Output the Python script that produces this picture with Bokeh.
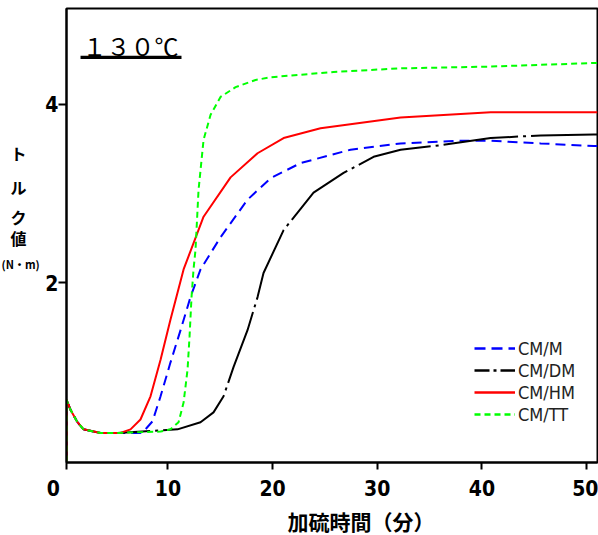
from bokeh.plotting import figure
from bokeh.layouts import row
from bokeh.models import (FixedTicker, Label, Legend, LegendItem, BoxAnnotation, Range1d, Title)
from bokeh.core.properties import value
from bokeh.embed import file_html
from bokeh.resources import INLINE

# ---- data ----
x_m  = [0.3, 0.3, 0.68, 1.35, 1.93, 3.55, 5.18, 7.37, 7.66, 8.52, 9.29, 10.24, 11.2, 12.15, 13.11, 15.02, 17.6, 19.8, 22.67, 27.45, 32.23, 37.68, 40.84, 45.62, 50.68, 51.05]
y_m  = [0.0, 0.69, 0.58, 0.44, 0.36, 0.32, 0.32, 0.32, 0.335, 0.45, 0.73, 1.11, 1.47, 1.84, 2.15, 2.51, 2.93, 3.17, 3.34, 3.49, 3.56, 3.59, 3.59, 3.56, 3.53, 3.53]

x_dm = [0.3, 0.3, 0.68, 1.35, 1.93, 3.55, 5.18, 10.91, 13.11, 14.35, 15.31, 16.27, 17.6, 18.56, 19.13, 21.05, 23.91, 26.78, 29.65, 32.23, 36.06, 40.84, 45.62, 50.68, 51.05]
y_dm = [0.0, 0.69, 0.58, 0.44, 0.36, 0.32, 0.32, 0.36, 0.44, 0.55, 0.73, 1.06, 1.47, 1.84, 2.11, 2.59, 3.01, 3.23, 3.41, 3.49, 3.54, 3.62, 3.65, 3.66, 3.66]

x_hm = [0.3, 0.3, 0.68, 1.35, 1.93, 3.55, 5.46, 6.42, 7.37, 8.33, 9.29, 10.24, 11.49, 13.40, 15.98, 18.56, 21.05, 24.58, 32.23, 40.84, 50.68, 51.05]
y_hm = [0.0, 0.69, 0.58, 0.44, 0.36, 0.32, 0.32, 0.36, 0.47, 0.73, 1.14, 1.59, 2.15, 2.74, 3.18, 3.45, 3.62, 3.73, 3.85, 3.91, 3.91, 3.91]

x_tt = [0.3, 0.3, 0.68, 1.35, 1.93, 3.55, 5.18, 9.29, 10.24, 11.01, 11.49, 11.87, 12.06, 12.25, 12.44, 12.63, 12.92, 13.40, 14.07, 15.02, 16.46, 18.37, 19.8, 25.83, 32.23, 40.84, 50.68, 51.05]
y_tt = [0.0, 0.69, 0.58, 0.44, 0.36, 0.32, 0.32, 0.335, 0.36, 0.44, 0.66, 1.03, 1.40, 1.84, 2.15, 2.37, 3.04, 3.60, 3.88, 4.08, 4.19, 4.27, 4.30, 4.36, 4.40, 4.42, 4.46, 4.46]

series_labels = ["CM/M", "CM/DM", "CM/HM", "CM/TT"]
x_ticks = [0.3, 10, 20, 30, 40, 50]
x_tick_labels = {0.3: "0\u00a0\u00a0\u00a0\u00a0"}
y_ticks = [2, 4]
y_label_parts = ["ト", "ル", "ク", "値", "(N・m)"]
# vertical positions of the stacked y-title, in torque units of the shared y-range
y_label_pos = [3.45, 3.07, 2.74, 2.50, 2.21]

NARROW = "DejaVu Sans Condensed"
CJK = "Noto Sans CJK JP"
H = 535

# ---- main plot ----
p = figure(width=556, height=H, output_backend="svg", toolbar_location=None,
           x_range=Range1d(0.3, 51.05), y_range=Range1d(-0.011, 5.07),
           min_border_left=24, min_border_right=1, min_border_top=8, min_border_bottom=72)
p.background_fill_color = "white"
p.border_fill_color = "white"
p.grid.visible = False
p.outline_line_color = "black"
p.outline_line_width = 2

for ax in (p.xaxis[0], p.yaxis[0]):
    ax.axis_line_color = "black"
    ax.axis_line_width = 2
    ax.major_tick_line_color = "black"
    ax.major_tick_line_width = 2
    ax.major_tick_in = 0
    ax.minor_tick_line_color = None
    ax.major_label_text_font = NARROW
    ax.major_label_text_font_style = "bold"
    ax.major_label_text_font_size = "21px"
    ax.major_label_text_color = "black"

p.xaxis.ticker = FixedTicker(ticks=x_ticks)
p.xaxis.major_label_overrides = x_tick_labels
p.yaxis.ticker = FixedTicker(ticks=y_ticks)
p.xaxis.major_tick_out = 7
p.yaxis.major_tick_out = 8
p.xaxis.major_label_standoff = 7
p.yaxis.major_label_standoff = 0

r_m = p.line(x_m, y_m, line_color="#0000ff", line_width=2, line_dash="10 6")
r_dm = p.line(x_dm, y_dm, line_color="black", line_width=2, line_dash="75 5 3 5")
r_hm = p.line(x_hm, y_hm, line_color="#ff0000", line_width=2)
r_tt = p.line(x_tt, y_tt, line_color="#00ff00", line_width=2, line_dash="6 4")

# legend proxies (off-screen) carrying the reference's short legend patterns
px_off = [-5, -4]
py_off = [-5, -5]
l_m = p.line(px_off, py_off, line_color="#0000ff", line_width=2.5, line_dash="11 6")
l_dm = p.line(px_off, py_off, line_color="black", line_width=2.5, line_dash="15 4 3 4")
l_hm = p.line(px_off, py_off, line_color="#ff0000", line_width=2.5)
l_tt = p.line(px_off, py_off, line_color="#00ff00", line_width=2.5, line_dash="6 4")

legend = Legend(items=[LegendItem(label=series_labels[0], renderers=[l_m]),
                       LegendItem(label=series_labels[1], renderers=[l_dm]),
                       LegendItem(label=series_labels[2], renderers=[l_hm]),
                       LegendItem(label=series_labels[3], renderers=[l_tt])],
                location=(408, 37), padding=0, margin=0, spacing=0,
                label_height=22, glyph_height=22, glyph_width=41, label_standoff=3,
                border_line_color=None, background_fill_alpha=0,
                label_text_font=NARROW, label_text_font_size="18px", label_text_color="#222222")
p.add_layout(legend)

# title inside plot, underlined
p.add_layout(Label(x=16, y=417, x_units="screen", y_units="screen", text="１３０℃",
                   text_font=CJK, text_font_size="24px", text_align="left",
                   text_baseline="middle", text_color="black"))
p.add_layout(BoxAnnotation(left=1.64, right=11.29, bottom=4.505, top=4.54,
                           fill_color="black", fill_alpha=1, line_color=None))

# x-axis label (offset to the right like the reference)
p.add_layout(Title(text="加硫時間（分）", align="left", offset=221, text_font=CJK,
                   text_font_size="21px", text_font_style="bold", text_color="black",
                   standoff=0), "below")

# ---- narrow panel holding the stacked y-axis title (shares the y-range) ----
pl = figure(width=42, height=H, output_backend="svg", toolbar_location=None,
            x_range=Range1d(0, 42), y_range=p.y_range,
            x_axis_location=None, y_axis_location=None,
            min_border_left=0, min_border_right=0, min_border_top=8, min_border_bottom=72)
pl.grid.visible = False
pl.outline_line_color = None
pl.background_fill_color = "white"
pl.border_fill_color = "white"
pl.text(x=[18, 18, 18, 18], y=y_label_pos[:4], text=y_label_parts[:4],
        text_font=value(CJK), text_font_size="16px", text_font_style="bold",
        text_align="center", text_baseline="middle", text_color="black")
pl.text(x=[1], y=y_label_pos[4:], text=y_label_parts[4:],
        text_font=value(CJK), text_font_size="11px", text_font_style="bold",
        text_align="left", text_baseline="middle", text_color="black")

layout = row(pl, p)
open("out.html", "w").write(file_html(layout, INLINE))
